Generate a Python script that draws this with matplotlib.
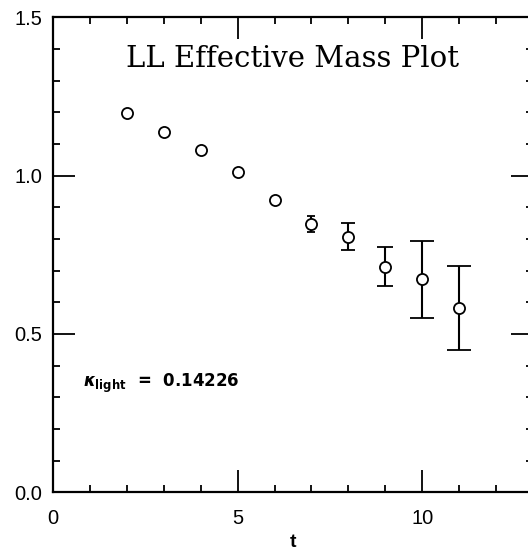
import matplotlib
matplotlib.use("Agg")
import matplotlib.pyplot as plt
from matplotlib.ticker import MultipleLocator, FormatStrFormatter

t = [2, 3, 4, 5, 6, 7, 8, 9, 10, 11]
mass = [1.197, 1.139, 1.082, 1.011, 0.923, 0.847, 0.807, 0.713, 0.673, 0.581]
err = [0.004, 0.005, 0.006, 0.008, 0.013, 0.025, 0.043, 0.063, 0.121, 0.133]
caps = [0, 0, 0, 0, 0, 3.0, 4.7, 6.1, 8.6, 8.3]

title = "LL Effective Mass Plot"
kappa_text = r"$\boldsymbol{\kappa}_{\mathbf{light}}$  =  0.14226"

fig = plt.figure(figsize=(5.28, 5.54), dpi=100)
ax = fig.add_axes([53/528, (554-492.3)/554, 480/528, (492.3-17.3)/554])

for ti, mi, ei, ci in zip(t, mass, err, caps):
    ax.errorbar([ti], [mi], yerr=[ei], fmt='o', ms=8, mfc='white', mec='black',
                mew=1.3, ecolor='black', elinewidth=1.5, capsize=ci, capthick=1.5,
                zorder=3)

ax.set_xlim(0, 13)
ax.set_ylim(0, 1.5)
ax.xaxis.set_major_locator(MultipleLocator(5))
ax.xaxis.set_minor_locator(MultipleLocator(1))
ax.yaxis.set_major_locator(MultipleLocator(0.5))
ax.yaxis.set_minor_locator(MultipleLocator(0.1))
ax.xaxis.set_major_formatter(FormatStrFormatter('%d'))
ax.yaxis.set_major_formatter(FormatStrFormatter('%.1f'))

ax.tick_params(which='both', direction='in', top=True, right=True, width=1.3,
               labelsize=14.5, colors='black')
ax.tick_params(which='major', length=16)
ax.tick_params(which='minor', length=5)
ax.tick_params(axis='y', pad=8)
ax.tick_params(axis='x', pad=12)
for lab in ax.get_xticklabels() + ax.get_yticklabels():
    lab.set_family('Liberation Sans')
for s in ax.spines.values():
    s.set_linewidth(1.6)

ax.set_xlabel('t', fontsize=14, family='Liberation Sans', fontweight='bold', labelpad=4)
ax.text(6.49, 1.369, title, ha='center', va='center', fontsize=21, family='DejaVu Serif')
ax.text(0.81, 0.345, kappa_text, ha='left', va='center', fontsize=12,
        family='DejaVu Sans', fontweight='bold')

fig.savefig('out.png', dpi=100)
